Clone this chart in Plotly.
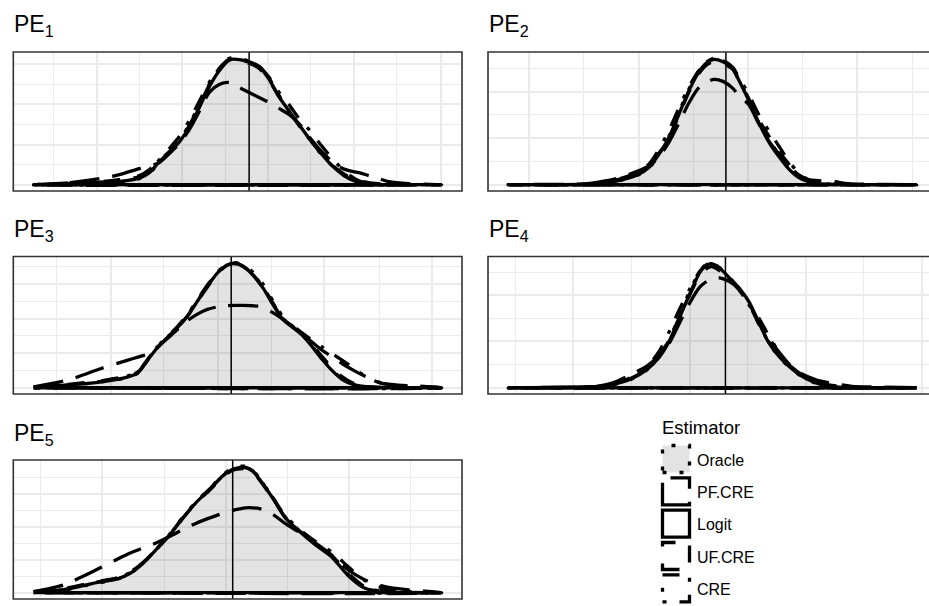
import plotly.graph_objects as go

W, H = 929, 606
FONT = "Liberation Sans, Arial, Helvetica, sans-serif"

estimators = ["Oracle", "PF.CRE", "Logit", "UF.CRE", "CRE"]
line_dashes = ["4px,13px", "30px,13px", "solid", "17px,17px", "4px,13px,17px,13px"]
panel_titles = ["PE<sub>1</sub>", "PE<sub>2</sub>", "PE<sub>3</sub>", "PE<sub>4</sub>", "PE<sub>5</sub>"]
true_values = [0.0, 0.0, 0.0, 0.0, 0.0]

# ---------------- PE1 ----------------
pe1_x = [-0.216, -0.18, -0.15, -0.13, -0.11, -0.10, -0.09, -0.08, -0.07, -0.06, -0.05, -0.04, -0.03,
         -0.02, -0.01, 0.0, 0.01, 0.02, 0.03, 0.04, 0.05, 0.06, 0.07, 0.08, 0.09, 0.10, 0.11, 0.12,
         0.13, 0.14, 0.16, 0.193]
pe1_oracle = [0, 0.03, 0.12, 0.28, 0.6, 1.15, 2.2, 3.3, 4.4, 6.0, 8.0, 10.0, 11.6, 12.6, 12.6, 12.3,
              11.8, 10.6, 8.9, 7.4, 6.0, 4.6, 3.3, 2.2, 1.3, 0.6, 0.25, 0.1, 0.04, 0, 0, 0]
pe1_pfcre = [0, 0.2, 0.6, 1.0, 1.6, 1.85, 2.2, 3.1, 4.1, 5.5, 7.3, 9.2, 10.0, 10.2, 9.7, 9.2, 8.7,
             8.2, 7.6, 7.0, 6.1, 4.8, 3.6, 2.6, 1.8, 1.4, 1.2, 0.9, 0.6, 0.3, 0.1, 0]
pe1_logit = [0, 0.04, 0.15, 0.3, 0.65, 1.2, 2.3, 3.23, 4.26, 5.75, 7.68, 9.75, 11.35, 12.45, 12.48,
             12.25, 11.8, 10.5, 8.75, 7.35, 6.0, 4.63, 3.39, 2.23, 1.29, 0.61, 0.23, 0.09, 0.04, 0, 0, 0]
pe1_ufcre = [0, 0.1, 0.3, 0.5, 0.9, 1.5, 2.4, 3.3, 4.4, 5.9, 7.9, 9.9, 11.4, 12.4, 12.4, 12.1, 11.6,
             10.4, 8.8, 7.3, 5.9, 4.6, 3.4, 2.3, 1.4, 0.8, 0.4, 0.2, 0.1, 0.03, 0, 0]
pe1_cre = [0, 0.08, 0.25, 0.45, 0.8, 1.4, 2.5, 3.6, 4.8, 6.4, 8.3, 10.2, 11.6, 12.5, 12.5, 12.2, 11.8,
           10.7, 9.2, 8.0, 6.6, 5.5, 4.2, 3.0, 1.9, 1.0, 0.4, 0.15, 0.05, 0, 0, 0]
pe1_grid_x_major = [-0.153, -0.067, 0.019, 0.105, 0.192]
pe1_grid_x_minor = [-0.196, -0.110, -0.024, 0.062, 0.148]
pe1_grid_y_major = [0, 4, 8, 12]
pe1_grid_y_minor = [2, 6, 10]

# ---------------- PE2 ----------------
pe2_x = [-0.219, -0.140, -0.123, -0.107, -0.090, -0.077, -0.067, -0.057, -0.047, -0.037, -0.027,
         -0.020, -0.012, -0.003, 0.007, 0.013, 0.023, 0.033, 0.043, 0.053, 0.063, 0.073, 0.083,
         0.093, 0.110, 0.123, 0.192]
pe2_oracle = [0, 0.02, 0.15, 0.4, 0.9, 1.7, 3.1, 4.9, 7.3, 9.6, 11.4, 12.2, 12.6, 12.35, 11.65, 10.5,
              8.5, 6.2, 4.5, 3.1, 1.8, 0.8, 0.3, 0.12, 0.03, 0, 0]
pe2_pfcre = [0, 0.1, 0.35, 0.7, 1.3, 1.9, 2.8, 4.3, 6.2, 8.2, 9.7, 10.2, 10.5, 10.3, 9.6, 8.9, 8.0,
             6.1, 4.4, 3.1, 1.9, 1.0, 0.5, 0.4, 0.3, 0.1, 0]
pe2_logit = [0, 0.03, 0.17, 0.43, 0.93, 1.77, 3.1, 4.77, 7.1, 9.43, 11.27, 12.1, 12.5, 12.27, 11.6,
             10.43, 8.4, 6.2, 4.3, 2.85, 1.6, 0.73, 0.3, 0.1, 0.02, 0, 0]
pe2_ufcre = [0, 0.05, 0.25, 0.6, 1.2, 2.0, 3.2, 4.7, 7.0, 9.3, 11.1, 11.9, 12.3, 12.1, 11.5, 10.4,
             8.6, 6.5, 4.9, 3.4, 2.1, 1.0, 0.4, 0.2, 0.1, 0.03, 0]
pe2_cre = [0, 0.05, 0.25, 0.55, 1.1, 2.1, 3.6, 5.5, 7.7, 9.8, 11.4, 12.2, 12.6, 12.4, 11.7, 10.7, 9.0,
           7.0, 5.4, 3.9, 2.4, 1.2, 0.5, 0.2, 0.05, 0, 0]
pe2_grid_x_major = [-0.198, -0.088, 0.022, 0.132]
pe2_grid_x_minor = [-0.143, -0.033, 0.077, 0.188]
pe2_grid_y_major = [0, 4.64, 9.28]
pe2_grid_y_minor = [2.32, 6.96, 11.6]

# ---------------- PE3 ----------------
pe3_x = [-0.199, -0.164, -0.131, -0.104, -0.094, -0.084, -0.074, -0.064, -0.054, -0.044, -0.034,
         -0.024, -0.014, -0.004, 0.004, 0.012, 0.022, 0.032, 0.042, 0.052, 0.062, 0.072, 0.082,
         0.092, 0.102, 0.112, 0.122, 0.136, 0.152, 0.212]
pe3_oracle = [0.03, 0.25, 0.58, 1.05, 1.5, 2.8, 4.1, 5.15, 6.2, 7.35, 8.8, 10.3, 11.65, 12.5, 12.65,
              12.4, 11.7, 10.5, 8.8, 7.2, 6.2, 5.3, 4.15, 2.9, 1.8, 0.9, 0.4, 0.12, 0.02, 0]
pe3_pfcre = [0.08, 0.8, 1.95, 2.8, 3.1, 3.43, 4.18, 5.0, 5.93, 6.8, 7.45, 7.93, 8.18, 8.3, 8.33, 8.33,
             8.3, 8.17, 7.6, 6.95, 6.2, 5.37, 4.57, 3.77, 3.1, 2.43, 1.83, 1.1, 0.45, 0]
pe3_logit = [0.03, 0.27, 0.6, 1.1, 1.5, 2.83, 4.1, 5.1, 6.1, 7.27, 8.77, 10.27, 11.6, 12.43, 12.6,
             12.27, 11.43, 10.1, 8.43, 6.93, 6.1, 5.27, 4.1, 2.83, 1.7, 0.83, 0.37, 0.1, 0, 0]
pe3_ufcre = [0.05, 0.35, 0.7, 1.2, 1.6, 2.8, 4.05, 5.1, 6.1, 7.25, 8.75, 10.2, 11.55, 12.4, 12.55,
             12.25, 11.4, 10.1, 8.5, 7.0, 6.15, 5.35, 4.3, 3.1, 2.0, 1.1, 0.5, 0.15, 0.03, 0]
pe3_cre = [0.05, 0.3, 0.65, 1.2, 1.6, 2.9, 4.2, 5.2, 6.2, 7.4, 8.9, 10.4, 11.7, 12.5, 12.6, 12.3, 11.5,
           10.2, 8.6, 7.0, 6.27, 5.5, 4.77, 4.1, 3.43, 2.77, 2.1, 1.1, 0.43, 0]
pe3_grid_x_major = [-0.121, -0.013, 0.094, 0.202]
pe3_grid_x_minor = [-0.176, -0.068, 0.041, 0.149]
pe3_grid_y_major = [0, 3.5, 7.0, 10.5]
pe3_grid_y_minor = [1.75, 5.25, 8.75, 12.25]

# ---------------- PE4 ----------------
pe4_x = [-0.218, -0.129, -0.113, -0.096, -0.079, -0.066, -0.056, -0.046, -0.036, -0.026, -0.019,
         -0.014, -0.006, 0.004, 0.014, 0.024, 0.034, 0.044, 0.054, 0.064, 0.077, 0.091, 0.104,
         0.127, 0.192]
pe4_oracle = [0, 0.08, 0.3, 0.8, 1.8, 3.2, 5.0, 7.4, 9.8, 11.8, 12.6, 12.7, 12.2, 11.1, 9.9, 8.4, 6.4,
              4.5, 3.1, 2.1, 1.1, 0.45, 0.15, 0, 0]
pe4_pfcre = [0, 0.15, 0.5, 1.3, 2.2, 3.3, 4.6, 6.6, 8.6, 10.2, 10.8, 11.1, 11.17, 10.8, 10.0, 8.5,
             6.6, 5.0, 3.6, 2.4, 1.4, 0.8, 0.5, 0.15, 0]
pe4_logit = [0, 0.1, 0.33, 0.83, 1.83, 3.17, 4.83, 7.17, 9.5, 11.67, 12.43, 12.6, 12.17, 11.17, 10.1,
             8.67, 6.5, 4.5, 3.17, 2.17, 1.17, 0.5, 0.17, 0, 0]
pe4_ufcre = [0, 0.1, 0.35, 0.9, 1.9, 3.3, 5.0, 7.2, 9.4, 11.4, 12.1, 12.3, 11.9, 11.0, 9.9, 8.4, 6.4,
             4.6, 3.3, 2.3, 1.3, 0.6, 0.3, 0.05, 0]
pe4_cre = [0, 0.12, 0.4, 1.0, 2.1, 3.8, 5.8, 8.0, 10.0, 11.8, 12.5, 12.7, 12.2, 11.2, 10.0, 8.4, 7.0,
           5.2, 3.6, 2.3, 1.2, 0.5, 0.18, 0.02, 0]
pe4_grid_x_major = [-0.153, -0.036, 0.081, 0.197]
pe4_grid_x_minor = [-0.211, -0.094, 0.022, 0.139]
pe4_grid_y_major = [0, 4.7, 9.4]
pe4_grid_y_minor = [2.35, 7.05, 11.75]

# ---------------- PE5 ----------------
pe5_x = [-0.200, -0.170, -0.137, -0.117, -0.103, -0.090, -0.077, -0.063, -0.050, -0.037, -0.023,
         -0.010, 0.000, 0.007, 0.013, 0.020, 0.027, 0.040, 0.053, 0.067, 0.083, 0.100, 0.117, 0.133,
         0.153, 0.177, 0.210]
pe5_oracle = [0.05, 0.25, 0.95, 1.3, 1.9, 2.95, 4.3, 5.85, 7.5, 9.0, 10.35, 11.7, 12.4, 12.55, 12.55,
              12.2, 11.35, 9.5, 7.5, 6.15, 4.85, 3.6, 1.75, 0.5, 0.1, 0, 0]
pe5_pfcre = [0.1, 0.77, 2.27, 3.27, 3.93, 4.45, 4.93, 5.6, 6.27, 6.88, 7.43, 7.88, 8.18, 8.33, 8.43,
             8.43, 8.35, 7.8, 6.85, 6.0, 4.95, 3.7, 2.2, 1.27, 0.6, 0.27, 0]
pe5_logit = [0.05, 0.27, 1.0, 1.33, 1.93, 2.93, 4.27, 5.77, 7.43, 8.93, 10.27, 11.6, 12.27, 12.43,
             12.43, 12.1, 11.27, 9.43, 7.43, 6.1, 4.77, 3.5, 1.6, 0.43, 0.08, 0, 0]
pe5_ufcre = [0.1, 0.4, 1.1, 1.45, 2.05, 3.0, 4.3, 5.75, 7.4, 8.9, 10.2, 11.5, 12.15, 12.3, 12.3, 12.0,
             11.2, 9.4, 7.45, 6.15, 4.85, 3.65, 1.85, 0.6, 0.15, 0.03, 0]
pe5_cre = [0.05, 0.3, 1.05, 1.4, 2.0, 3.0, 4.3, 5.8, 7.5, 9.0, 10.3, 11.6, 12.3, 12.45, 12.45, 12.1,
           11.3, 9.5, 7.6, 6.3, 5.1, 4.0, 2.5, 1.2, 0.4, 0.1, 0]
pe5_grid_x_major = [-0.131, -0.007, 0.117]
pe5_grid_x_minor = [-0.193, -0.069, 0.055, 0.179]
pe5_grid_y_major = [0, 3.27, 6.53, 9.8]
pe5_grid_y_minor = [1.63, 4.9, 8.17, 11.43]

panels = [
    (pe1_x, [pe1_oracle, pe1_pfcre, pe1_logit, pe1_ufcre, pe1_cre],
     pe1_grid_x_major, pe1_grid_x_minor, pe1_grid_y_major, pe1_grid_y_minor),
    (pe2_x, [pe2_oracle, pe2_pfcre, pe2_logit, pe2_ufcre, pe2_cre],
     pe2_grid_x_major, pe2_grid_x_minor, pe2_grid_y_major, pe2_grid_y_minor),
    (pe3_x, [pe3_oracle, pe3_pfcre, pe3_logit, pe3_ufcre, pe3_cre],
     pe3_grid_x_major, pe3_grid_x_minor, pe3_grid_y_major, pe3_grid_y_minor),
    (pe4_x, [pe4_oracle, pe4_pfcre, pe4_logit, pe4_ufcre, pe4_cre],
     pe4_grid_x_major, pe4_grid_x_minor, pe4_grid_y_major, pe4_grid_y_minor),
    (pe5_x, [pe5_oracle, pe5_pfcre, pe5_logit, pe5_ufcre, pe5_cre],
     pe5_grid_x_major, pe5_grid_x_minor, pe5_grid_y_major, pe5_grid_y_minor),
]

# panel boxes in pixels: (left, right, top, bottom)
boxes = [(13.3, 462, 52, 191), (488, 937, 52, 191),
         (13.3, 462, 256.5, 394), (488, 937, 256.5, 394),
         (13.3, 462, 460, 599)]
title_pos = [(12, 25), (487, 25), (12, 230), (487, 230), (12, 434)]

GRID = "#EBEBEB"
fig = go.Figure()
shapes = []
annotations = []
layout_axes = {}

for i, (xs, series, gxM, gxm, gyM, gym) in enumerate(panels):
    k = i + 1
    xa = "x" if k == 1 else f"x{k}"
    ya = "y" if k == 1 else f"y{k}"
    for name, ys, dash in zip(estimators, series, line_dashes):
        fig.add_trace(go.Scatter(
            x=list(xs) + [xs[0]], y=list(ys) + [0],
            mode="lines",
            line=dict(color="black", width=3.3, dash=dash, shape="spline", smoothing=0.7),
            fill="toself" if name == "Oracle" else "none",
            fillcolor="rgba(0,0,0,0.11)",
            xaxis=xa, yaxis=ya, showlegend=False, hoverinfo="skip", name=name))
    left, right, top, bottom = boxes[i]
    xmin, xmax = min(xs), max(xs)
    span = xmax - xmin
    a, b = xmin - 0.05 * span, xmax + 0.05 * span
    right_vis = min(right, W)
    frac = (right_vis - left) / (right - left)
    b_vis = a + (b - a) * frac
    ymax = max(max(s) for s in series)
    axis_common = dict(showticklabels=False, ticks="", zeroline=False, showline=False,
                       showgrid=True, gridcolor=GRID, gridwidth=2.0, fixedrange=True)
    layout_axes["xaxis" if k == 1 else f"xaxis{k}"] = dict(
        domain=[left / W, right_vis / W], range=[a, b_vis], anchor=ya,
        tickmode="array", tickvals=gxM,
        minor=dict(tickvals=gxm, showgrid=True, gridcolor=GRID, gridwidth=1.1, ticks=""),
        **axis_common)
    layout_axes["yaxis" if k == 1 else f"yaxis{k}"] = dict(
        domain=[1 - bottom / H, 1 - top / H], range=[-0.05 * ymax, 1.05 * ymax], anchor=xa,
        tickmode="array", tickvals=gyM,
        minor=dict(tickvals=gym, showgrid=True, gridcolor=GRID, gridwidth=1.1, ticks=""),
        **axis_common)
    # true value line
    shapes.append(dict(type="line", xref=xa, yref=f"{ya} domain", x0=true_values[i], x1=true_values[i],
                       y0=0, y1=1, line=dict(color="black", width=1.5), layer="above"))
    # panel border
    shapes.append(dict(type="rect", xref="paper", yref="paper", x0=left / W, x1=right / W,
                       y0=1 - bottom / H, y1=1 - top / H, line=dict(color="#333333", width=1.6),
                       fillcolor="rgba(0,0,0,0)", layer="above"))
    tx, ty = title_pos[i]
    annotations.append(dict(text=panel_titles[i], xref="paper", yref="paper", x=tx / W, y=1 - ty / H,
                            xanchor="left", yanchor="middle", showarrow=False,
                            font=dict(family=FONT, size=23, color="black")))

# legend (drawn manually, like ggplot polygon keys)
annotations.append(dict(text="Estimator", xref="paper", yref="paper", x=660 / W, y=1 - 427 / H,
                        xanchor="left", yanchor="middle", showarrow=False,
                        font=dict(family=FONT, size=18.5, color="black")))
row_centers = [459, 491.3, 523.6, 556, 588.3]
for name, dash, cy in zip(estimators, line_dashes, row_centers):
    shapes.append(dict(type="rect", xref="paper", yref="paper",
                       x0=662.5 / W, x1=689.5 / W, y0=1 - (cy + 13.5) / H, y1=1 - (cy - 13.5) / H,
                       line=dict(color="black", width=3.3, dash=dash),
                       fillcolor="rgba(0,0,0,0.11)" if name == "Oracle" else "rgba(0,0,0,0)",
                       layer="above"))
    annotations.append(dict(text=name, xref="paper", yref="paper", x=695 / W, y=1 - (cy + 1) / H,
                            xanchor="left", yanchor="middle", showarrow=False,
                            font=dict(family=FONT, size=16, color="black")))

fig.update_layout(
    width=W, height=H, margin=dict(l=0, r=0, t=0, b=0),
    paper_bgcolor="white", plot_bgcolor="white",
    showlegend=False, shapes=shapes, annotations=annotations,
    font=dict(family=FONT, color="black"),
    **layout_axes)

fig.write_html("out.html", config={"displayModeBar": False})
